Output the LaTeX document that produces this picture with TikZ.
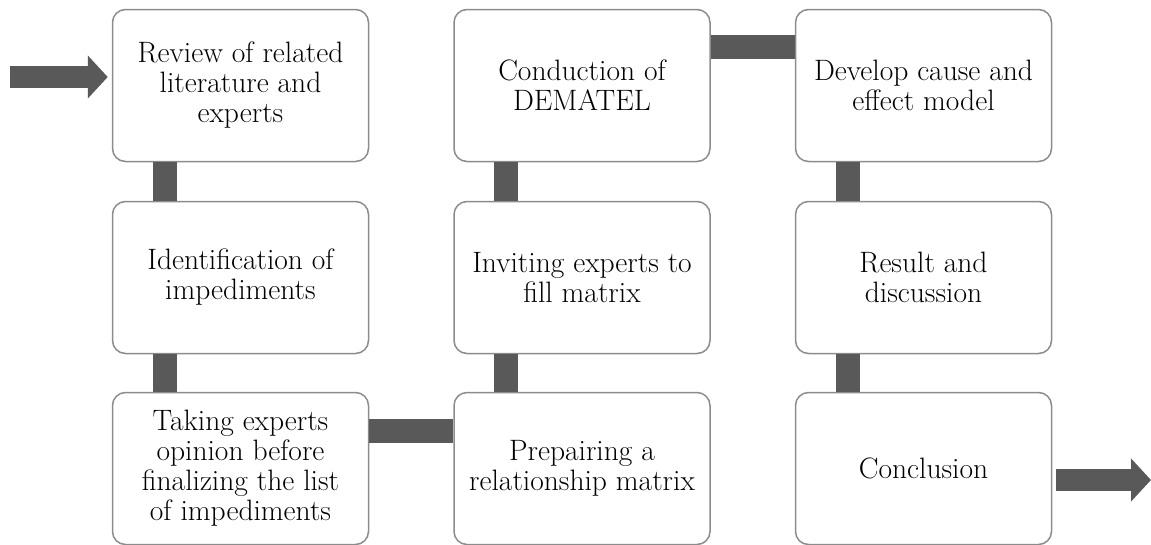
\documentclass[tikz,border=0pt]{standalone}
\usetikzlibrary{arrows.meta}

\definecolor{boxline}{RGB}{140,140,140}
\definecolor{barfill}{RGB}{89,89,89}

\tikzset{
  stage/.style={draw=boxline,line width=1.5pt,rounded corners=13pt,fill=white,
    minimum width=256pt,minimum height=152pt,align=center,
    font=\fontsize{29.5}{30}\selectfont},
  bar/.style={barfill,line width=24pt},
  flow/.style={barfill,line width=22pt,-{Triangle[width=42pt,length=20pt]}}
}

\begin{document}
\begin{tikzpicture}[x=1pt,y=-1pt]
   \useasboundingbox (0,0) rectangle (1151,544);

   \node[stage] (s1) at (240.5,85.5)  {Review of related\\literature and\\experts};
   \node[stage] (s2) at (240.5,277.5) {Identification of\\impediments};
   \node[stage] (s3) at (240.5,468.5) {Taking experts\\opinion before\\finalizing the list\\of impediments};
   \node[stage] (s4) at (582,468.5)   {Prepairing a\\relationship matrix};
   \node[stage] (s5) at (582,277.5)   {Inviting experts to\\fill matrix};
   \node[stage] (s6) at (582,85.5)    {Conduction of\\DEMATEL};
   \node[stage] (s7) at (923.5,85.5)  {Develop cause and\\effect model};
   \node[stage] (s8) at (923.5,277.5) {Result and\\discussion};
   \node[stage] (s9) at (923.5,468.5) {Conclusion};

   \coordinate (in) at (10,77);
   \coordinate (out) at (1151,480);

   \draw[flow] (in) -- (in -| s1.west) [shorten >=4pt];
   \draw[bar] ([xshift=53pt]s1.south west) -- ([xshift=53pt]s2.north west);
   \draw[bar] ([xshift=53pt]s2.south west) -- ([xshift=53pt]s3.north west);
   \draw[bar] ([yshift=-39pt]s3.north east) -- ([yshift=-39pt]s4.north west);
   \draw[bar] ([xshift=53pt]s4.north west) -- ([xshift=53pt]s5.south west);
   \draw[bar] ([xshift=53pt]s5.north west) -- ([xshift=53pt]s6.south west);
   \draw[bar] ([yshift=-38pt]s6.north east) -- ([yshift=-38pt]s7.north west);
   \draw[bar] ([xshift=53pt]s7.south west) -- ([xshift=53pt]s8.north west);
   \draw[bar] ([xshift=53pt]s8.south west) -- ([xshift=53pt]s9.north west);
   \draw[flow,shorten <=4pt] (s9.east |- out) -- (out);

\end{tikzpicture}
\end{document}
